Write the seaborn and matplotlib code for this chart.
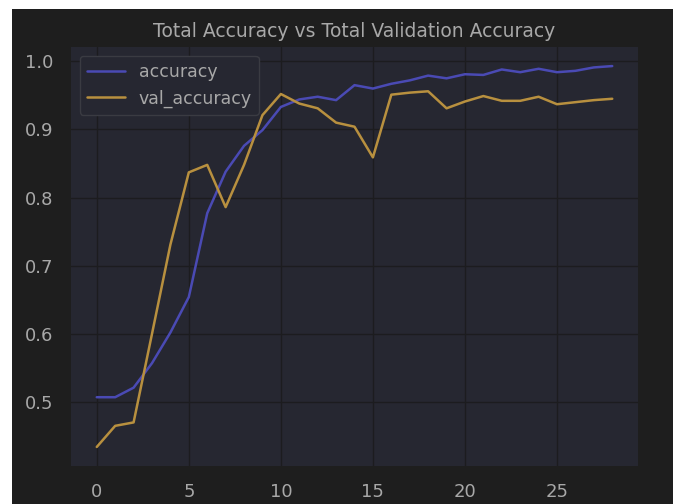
import pandas as pd
import numpy as np
from matplotlib import pyplot as plt
from matplotlib.patches import Rectangle
import seaborn as sns

# Training history
epochs = list(range(29))
accuracy = [0.507, 0.507, 0.521, 0.557, 0.602, 0.654, 0.777, 0.838, 0.876, 0.899,
            0.933, 0.944, 0.948, 0.943, 0.965, 0.960, 0.967, 0.972, 0.979, 0.975,
            0.981, 0.980, 0.988, 0.984, 0.989, 0.984, 0.986, 0.991, 0.993]
val_accuracy = [0.434, 0.465, 0.470, 0.600, 0.731, 0.837, 0.848, 0.786, 0.848, 0.921,
                0.952, 0.938, 0.931, 0.910, 0.904, 0.859, 0.951, 0.954, 0.956, 0.931,
                0.941, 0.949, 0.942, 0.942, 0.948, 0.937, 0.940, 0.943, 0.945]

df = pd.DataFrame({"epoch": epochs, "accuracy": accuracy, "val_accuracy": val_accuracy})
long_df = df.melt(id_vars="epoch", var_name="metric", value_name="value")

fig_bg = "#1e1e1e"
ax_bg = "#262731"
text_c = "#a8a8a8"
grid_c = "#1c1c1f"

sns.set_style("darkgrid", {"axes.facecolor": ax_bg, "grid.color": grid_c})
plt.rcParams['font.family'] = ['DejaVu Sans']

fig = plt.figure(figsize=(6.73, 5.04), dpi=100, facecolor=fig_bg)
ax = fig.add_axes([0.1055, 0.0754, 0.8425, 0.8313])

palette = {"accuracy": "#4a4ab4", "val_accuracy": "#b8903f"}
sns.lineplot(data=long_df, x="epoch", y="value", hue="metric", palette=palette,
             linewidth=1.8, ax=ax)

ax.set_facecolor(ax_bg)
ax.grid(True, color=grid_c, linewidth=1.0)
for s in ax.spines.values():
    s.set_visible(False)
ax.set_xlabel("")
ax.set_ylabel("")
ax.set_xticks([0, 5, 10, 15, 20, 25])
ax.set_yticks([0.5, 0.6, 0.7, 0.8, 0.9, 1.0])
ax.tick_params(colors=text_c, labelsize=13, length=0)
ax.tick_params(axis="x", pad=12)
ax.tick_params(axis="y", pad=13)
ax.set_title("Total Accuracy vs Total Validation Accuracy", color=text_c, fontsize=13.5, pad=7)

leg = ax.legend(loc="upper left", fontsize=12.5, frameon=True, facecolor=ax_bg,
                edgecolor="#3a3b42", labelcolor=text_c, handlelength=2.2)
leg.get_frame().set_alpha(1.0)

# white strips at top and left of the screenshot
fig.add_artist(Rectangle((0, 1 - 9 / 504), 1, 9 / 504, transform=fig.transFigure,
                         facecolor="white", edgecolor="none"))
fig.add_artist(Rectangle((0, 0), 12 / 673, 1, transform=fig.transFigure,
                         facecolor="white", edgecolor="none"))

plt.savefig("out.png", dpi=100, facecolor=fig_bg)
